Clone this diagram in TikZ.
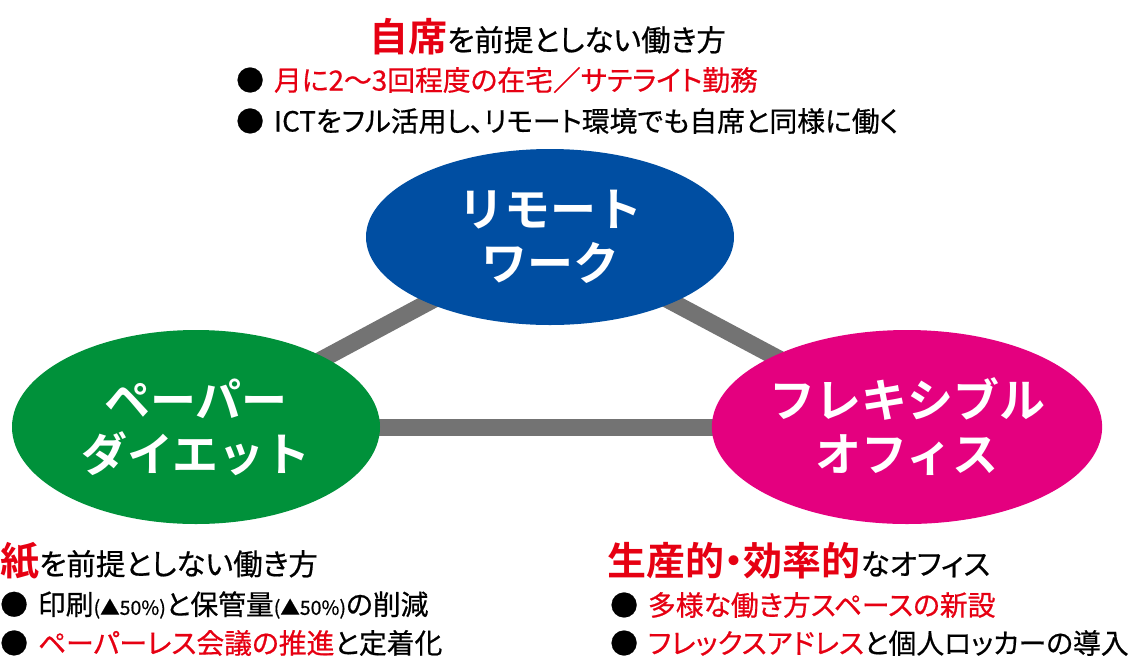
\documentclass[tikz,border=0pt]{standalone}
\usepackage{fontspec}
\setmainfont{Noto Sans CJK JP}[RawFeature=+palt,FakeBold=0.6]
\newfontfamily\boldjp{Noto Sans CJK JP Bold}[RawFeature=+palt]
\newfontfamily\ovaljp{Noto Sans CJK JP Bold}
\usetikzlibrary{shapes.geometric,backgrounds}
\definecolor{cblue}{HTML}{004EA2}
\definecolor{cgreen}{HTML}{00913A}
\definecolor{cmag}{HTML}{E4007F}
\definecolor{cred}{HTML}{E60012}
\definecolor{cgray}{HTML}{737373}
\newcommand{\bigred}[1]{{\boldjp\fontsize{39}{40}\selectfont\color{cred}#1}}
\newcommand{\smallp}[1]{{\fontsize{19.5}{20}\selectfont #1}}
\begin{document}
\begin{tikzpicture}[x=1pt,y=-1pt,
  oval/.style={ellipse,inner sep=0pt,minimum width=368pt,
    text=white,align=center,font=\ovaljp\fontsize{46}{54}\selectfont},
  conn/.style={draw=cgray,line width=17pt},
  txt/.style={anchor=west,inner sep=0pt,font=\fontsize{27.8}{30}\selectfont},
  ttl/.style={anchor=base west,inner sep=0pt,font=\fontsize{29.5}{30}\selectfont}]
\useasboundingbox (0,0) rectangle (1128,657);
\node[oval,fill=cblue,minimum height=176pt] (rw) at (550,237) {リモート\\ワーク};
\node[oval,fill=cgreen,minimum height=194pt] (pd) at (196,427) {ペーパー\\ダイエット};
\node[oval,fill=cmag,minimum height=194pt] (fo) at (907,427) {フレキシブル\\オフィス};
\begin{scope}[on background layer]
\draw[conn] (pd.center) -- (rw.center);
\draw[conn] (rw.center) -- (fo.center);
\draw[conn] (pd.center) -- (fo.center);
\end{scope}
% top
\node[ttl] (t1) at (369,51) {\bigred{自席}を前提としない働き方};
\node[txt] (t2) at (236,80) {●\hspace{10pt}{\color{cred}月に2～3回程度の在宅／サテライト勤務}};
\node[txt] (t3) at (236,121) {●\hspace{10pt}ICTをフル活用し、リモート環境でも自席と同様に働く};
% bottom left
\node[ttl] (l1) at (0,575) {\bigred{紙}を前提としない働き方};
\node[txt] (l2) at (0,605) {●\hspace{10pt}印刷\smallp{(▲50\%)}と保管量\smallp{(▲50\%)}の削減};
\node[txt] (l3) at (0,643) {●\hspace{10pt}{\color{cred}ペーパーレス会議の推進}と定着化};
% bottom right
\node[ttl] (r1) at (607,575) {\bigred{生産的・効率的}なオフィス};
\node[txt] (r2) at (610,605) {●\hspace{10pt}{\color{cred}多様な働き方スペースの新設}};
\node[txt] (r3) at (610,643) {●\hspace{10pt}{\color{cred}フレックスアドレス}と個人ロッカーの導入};
\end{tikzpicture}
\end{document}
